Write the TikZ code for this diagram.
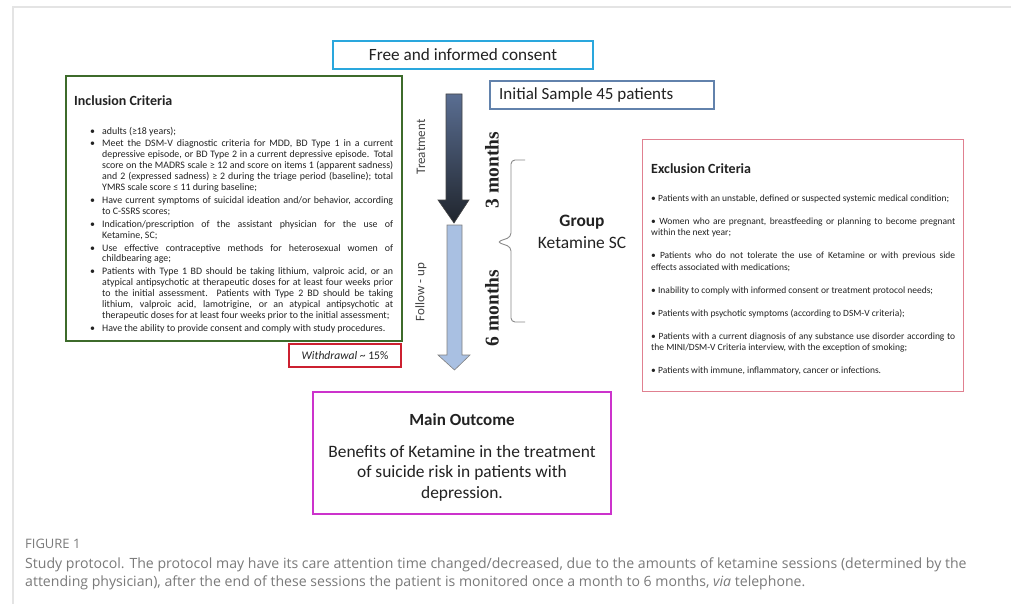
\documentclass[tikz,border=0pt]{standalone}
\usepackage{fontspec}
\setmainfont{Carlito}
\newfontfamily\serifbf{Liberation Serif}
\newfontfamily\capfont{Open Sans}
\definecolor{consentc}{HTML}{2AA7DD}
\definecolor{inclc}{HTML}{3D6B2B}
\definecolor{samplec}{HTML}{6282AC}
\definecolor{exclc}{HTML}{E08090}
\definecolor{withc}{HTML}{CC2030}
\definecolor{mainc}{HTML}{CC33CC}
\definecolor{txt}{HTML}{222222}
\definecolor{softtxt}{HTML}{444444}
\definecolor{capc}{HTML}{7A7A7A}
\definecolor{framec}{HTML}{E4E4E4}
\definecolor{darktop}{HTML}{5A6E92}
\definecolor{darkbot}{HTML}{20252D}
\definecolor{lightc}{HTML}{A9C0E2}
\definecolor{bracec}{HTML}{8A8A8A}
\newcommand{\ibul}[1]{\par\hangindent=12pt\hangafter=1\noindent\makebox[12pt][l]{•}#1}
\newcommand{\ebul}[1]{\par\noindent• #1}
\begin{document}
\begin{tikzpicture}[x=1pt,y=-1pt,
  boxnode/.style={draw, rectangle, inner sep=0, fill=white},
  plain/.style={inner sep=0, text=txt},
  rottext/.style={inner sep=0, rotate=90, text=softtxt, font=\fontsize{13}{15}\selectfont},
  months/.style={inner sep=0, rotate=90, text=txt, font=\serifbf\bfseries\fontsize{19.5}{22}\selectfont},
  capline/.style={inner sep=0, anchor=base west, text=capc, font=\capfont\fontsize{14.1}{17}\selectfont}]
\useasboundingbox (0,0) rectangle (1011,604);
\fill[white] (0,0) rectangle (1011,604);
\draw[framec, line width=1.2] (13,604) -- (13,7) -- (1011,7);

% boxes
\node[boxnode, draw=consentc, line width=2.2, minimum width=260, minimum height=28] (consent) at (463,55) {};
\node[boxnode, draw=inclc, line width=1.8, minimum width=336, minimum height=265] (incl) at (234,208.5) {};
\node[boxnode, draw=samplec, line width=1.4, minimum width=224, minimum height=28] (sample) at (602,95) {};
\node[boxnode, draw=exclc, line width=1, minimum width=321, minimum height=251] (excl) at (802.5,265.5) {};
\node[boxnode, draw=withc, line width=2, minimum width=112, minimum height=23] (withd) at (345,355.5) {};
\node[boxnode, draw=mainc, line width=2.2, minimum width=298, minimum height=122] (main) at (462,453) {};

% texts in boxes
\node[plain, font=\fontsize{17.2}{20}\selectfont] (consentt) at (consent.center) {Free and informed consent};
\node[plain, anchor=west, font=\fontsize{17}{20}\selectfont] (samplet) at (499,95) {Initial Sample 45 patients};

\node[plain, anchor=base west, font=\bfseries\fontsize{14}{16}\selectfont] (inclt) at (74,106) {Inclusion Criteria};
\node[plain, anchor=north west, text width=303, align=justify, font=\fontsize{9.9}{10.9}\selectfont] (incltext) at (90,121) {\setlength{\parskip}{2pt}%
\ibul{adults (≥18 years);}
\ibul{Meet the DSM-V diagnostic criteria for MDD, BD Type 1 in a current\linebreak depressive episode, or BD Type 2 in a current depressive episode. Total\linebreak score on the MADRS scale ≥ 12 and score on items 1 (apparent sadness)\linebreak and 2 (expressed sadness) ≥ 2 during the triage period (baseline); total\linebreak YMRS scale score ≤ 11 during baseline;}
\ibul{Have current symptoms of suicidal ideation and/or behavior, according\linebreak to C-SSRS scores;}
\ibul{Indication/prescription of the assistant physician for the use of\linebreak Ketamine, SC;}
\ibul{Use effective contraceptive methods for heterosexual women of\linebreak childbearing age;}
\ibul{Patients with Type 1 BD should be taking lithium, valproic acid, or an\linebreak atypical antipsychotic at therapeutic doses for at least four weeks prior\linebreak to the initial assessment. Patients with Type 2 BD should be taking\linebreak lithium, valproic acid, lamotrigine, or an atypical antipsychotic at\linebreak therapeutic doses for at least four weeks prior to the initial assessment;}
\ibul{Have the ability to provide consent and comply with study procedures.}\par};

\node[plain, anchor=base west, font=\bfseries\fontsize{14}{16}\selectfont] (exclt) at (651,174) {Exclusion Criteria};
\node[plain, anchor=north west, text width=304, align=justify, font=\fontsize{9.5}{11.5}\selectfont] (excltext) at (651,178) {\setlength{\parskip}{11.5pt}%
\ebul{Patients with an unstable, defined or suspected systemic medical condition;}
\ebul{Women who are pregnant, breastfeeding or planning to become pregnant\linebreak within the next year;}
\ebul{Patients who do not tolerate the use of Ketamine or with previous side\linebreak effects associated with medications;}
\ebul{Inability to comply with informed consent or treatment protocol needs;}
\ebul{Patients with psychotic symptoms (according to DSM-V criteria);}
\ebul{Patients with a current diagnosis of any substance use disorder according to\linebreak the MINI/DSM-V Criteria interview, with the exception of smoking;}
\ebul{Patients with immune, inflammatory, cancer or infections.}\par};

\node[plain, font=\fontsize{11.6}{13}\selectfont] (withdt) at (withd.center) {\textit{Withdrawal} \textasciitilde\ 15\%};

\node[plain, font=\bfseries\fontsize{17}{20}\selectfont] (maint) at (462,420) {Main Outcome};
\node[plain, align=center, font=\fontsize{17.4}{20.5}\selectfont] (mainb) at (462,473) {Benefits of Ketamine in the treatment\\of suicide risk in patients with\\depression.};

% arrows
\shade[top color=darktop, bottom color=darkbot, draw=softtxt, line width=0.6]
  (446,94) -- (462,94) -- (462,200) -- (469,200) -- (454,223) -- (438,200) -- (446,200) -- cycle;
\fill[lightc, draw=gray, line width=0.6]
  (447,225) -- (462,225) -- (462,355) -- (470,355) -- (454.5,370) -- (438,355) -- (447,355) -- cycle;

\node[rottext] (treat) at (421,147) {Treatment};
\node[rottext] (follow) at (421,292) {Follow - up};
\node[months] (m3) at (492,170) {3 months};
\node[months] (m6) at (492,308) {6 months};

\coordinate (btop) at (525,160);
\coordinate (bbot) at (525,322);
\draw[bracec, line width=0.9, rounded corners=4] (btop) -- (511,160) -- (511,237) -- (497,242) -- (511,247) -- (511,322) -- (bbot);

\node[plain, font=\bfseries\fontsize{17.4}{20}\selectfont] (grp) at (582,222) {Group};
\node[plain, font=\fontsize{17.4}{20}\selectfont] (ket) at (582,243) {Ketamine SC};

% caption
\node[capline, font=\capfont\fontsize{13}{15}\selectfont] (figlab) at (25,548) {FIGURE 1};
\node[capline] (cap1) at (25,568) {Study protocol. The protocol may have its care attention time changed/decreased, due to the amounts of ketamine sessions (determined by the};
\node[capline] (cap2) at (25,586) {attending physician), after the end of these sessions the patient is monitored once a month to 6 months, \textit{via} telephone.};
\end{tikzpicture}
\end{document}
